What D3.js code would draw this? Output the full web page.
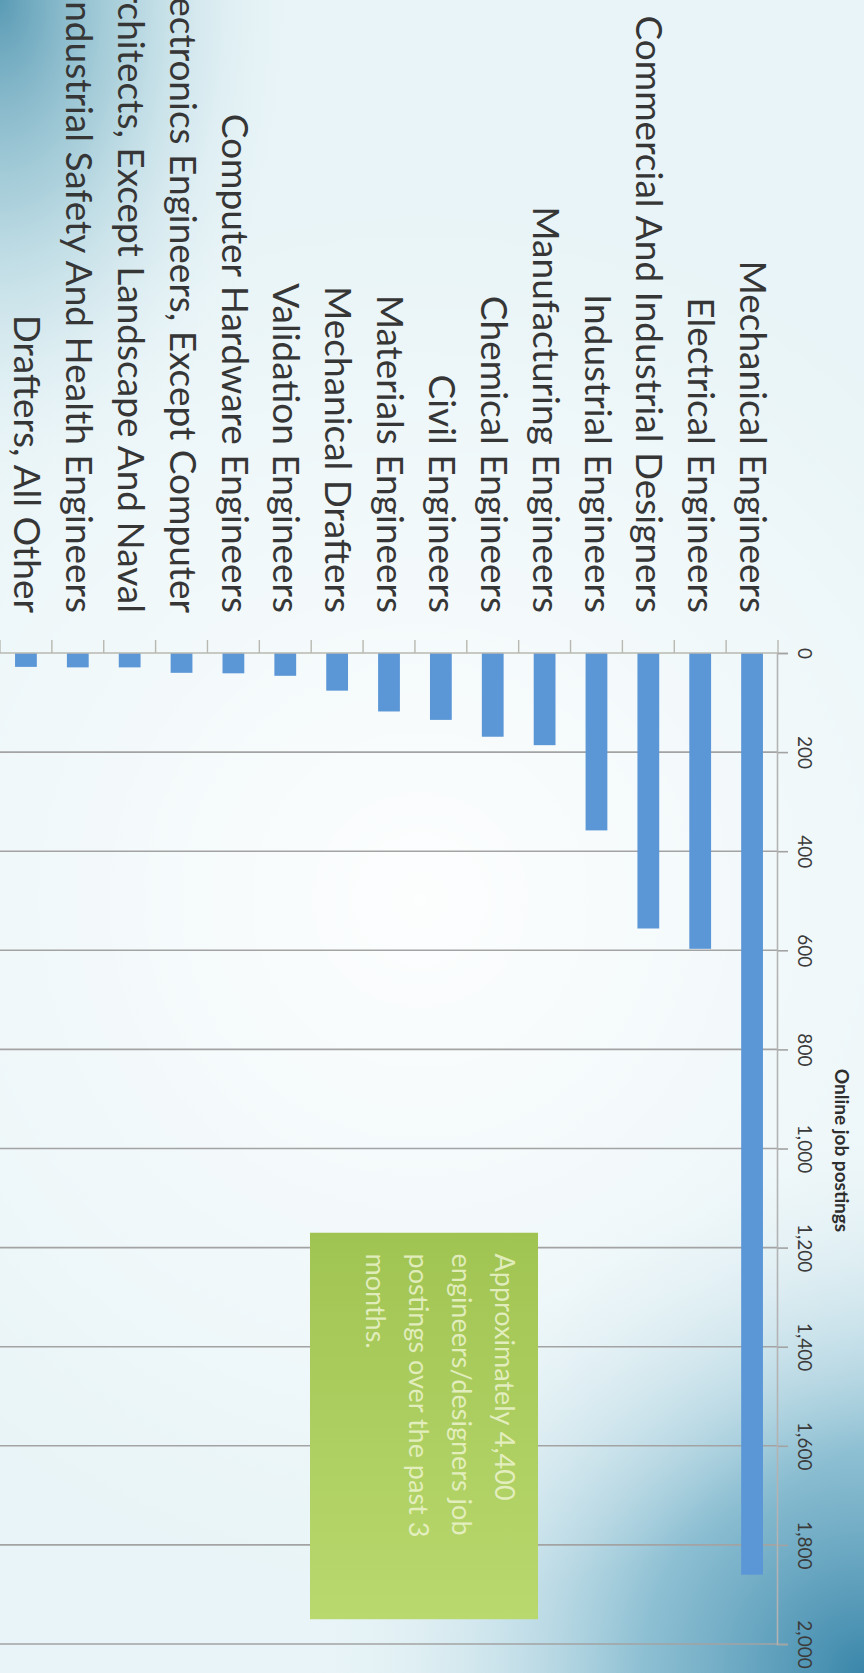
<!DOCTYPE html>
<html>
<head>
<meta charset="utf-8">
<script src="https://cdn.jsdelivr.net/npm/d3@7"></script>
<style>
  html, body { margin: 0; padding: 0; background: #eaf5f8; }
  svg { display: block; }
</style>
</head>
<body>
<svg id="chart" width="864" height="1673"></svg>
<script>
// ---------- data ----------
const categories = [
  "Mechanical Engineers",
  "Electrical Engineers",
  "Commercial And Industrial Designers",
  "Industrial Engineers",
  "Manufacturing Engineers",
  "Chemical Engineers",
  "Civil Engineers",
  "Materials Engineers",
  "Mechanical Drafters",
  "Validation Engineers",
  "Computer Hardware Engineers",
  "Electronics Engineers, Except Computer",
  "Architects, Except Landscape And Naval",
  "Industrial Safety And Health Engineers",
  "Drafters, All Other"
];
const postings = [1860, 597, 556, 358, 186, 169, 135, 118, 76, 46, 41, 40, 29, 29, 28];
const tickValues = [0, 200, 400, 600, 800, 1000, 1200, 1400, 1600, 1800, 2000];
const axisTitle = "Online job postings";
const noteLines = [
  "Approximately 4,400",
  "engineers/designers job",
  "postings over the past 3",
  "months."
];

// ---------- setup ----------
const W = 864, H = 1673;
const svg = d3.select("#chart");
const defs = svg.append("defs");

// background gradients (picture coordinates)
const rg1 = defs.append("radialGradient").attr("id", "bgTL")
  .attr("gradientUnits", "userSpaceOnUse").attr("cx", 0).attr("cy", 0).attr("r", 300)
  .attr("gradientTransform", "scale(1,1.7)");
rg1.append("stop").attr("offset", 0).attr("stop-color", "#5a9bb5").attr("stop-opacity", 1);
rg1.append("stop").attr("offset", 0.4).attr("stop-color", "#98c5d3").attr("stop-opacity", 0.75);
rg1.append("stop").attr("offset", 1).attr("stop-color", "#eaf5f8").attr("stop-opacity", 0);

const rg2 = defs.append("radialGradient").attr("id", "bgBR")
  .attr("gradientUnits", "userSpaceOnUse").attr("cx", W).attr("cy", H).attr("r", 560);
rg2.append("stop").attr("offset", 0).attr("stop-color", "#3a86aa").attr("stop-opacity", 1);
rg2.append("stop").attr("offset", 0.4).attr("stop-color", "#78b3ca").attr("stop-opacity", 0.8);
rg2.append("stop").attr("offset", 1).attr("stop-color", "#eaf5f8").attr("stop-opacity", 0);

const rg3 = defs.append("radialGradient").attr("id", "bgGlow")
  .attr("gradientUnits", "userSpaceOnUse").attr("cx", 420).attr("cy", 900).attr("r", 700);
rg3.append("stop").attr("offset", 0).attr("stop-color", "#ffffff").attr("stop-opacity", 0.9);
rg3.append("stop").attr("offset", 1).attr("stop-color", "#ffffff").attr("stop-opacity", 0);

const lg = defs.append("linearGradient").attr("id", "noteFill")
  .attr("x1", 0).attr("y1", 0).attr("x2", 1).attr("y2", 0);
lg.append("stop").attr("offset", 0).attr("stop-color", "#a0c452");
lg.append("stop").attr("offset", 1).attr("stop-color", "#b9d86e");

svg.append("rect").attr("width", W).attr("height", H).attr("fill", "#e8f4f7");
svg.append("rect").attr("width", W).attr("height", H).attr("fill", "url(#bgTL)");
svg.append("rect").attr("width", W).attr("height", H).attr("fill", "url(#bgBR)");
svg.append("rect").attr("width", W).attr("height", H).attr("fill", "url(#bgGlow)");

// chart is drawn as a horizontal bar chart, then rotated 90° clockwise
const g = svg.append("g").attr("transform", `translate(${W},0) rotate(90)`);

const plot = { left: 653, right: 1644, top: 86, bottom: 864 };

const x = d3.scaleLinear().domain([0, 2000]).range([plot.left, plot.right]);
const y = d3.scaleBand().domain(categories).range([plot.top, plot.bottom])
  .paddingInner(0.58).paddingOuter(0.29);

// gridlines
g.append("g").selectAll("line").data(tickValues.filter(d => d > 0)).join("line")
  .attr("x1", d => x(d)).attr("x2", d => x(d))
  .attr("y1", plot.top).attr("y2", plot.bottom)
  .attr("stroke", "#a3a3a3").attr("stroke-width", 1.6);

// note box
const note = g.append("g");
note.append("rect")
  .attr("x", x(1170)).attr("y", 326)
  .attr("width", x(1950) - x(1170)).attr("height", 228)
  .attr("fill", "url(#noteFill)");
note.append("text")
  .attr("font-family", "Lato, 'Open Sans', sans-serif")
  .attr("font-size", 27)
  .attr("fill", "#edf4cf")
  .attr("fill-opacity", 0.85)
  .selectAll("tspan").data(noteLines).join("tspan")
  .attr("x", x(1212))
  .attr("y", (d, i) => 369 + i * 43)
  .text(d => d);

// value axis (top of the unrotated chart)
const xAxis = d3.axisTop(x).tickValues(tickValues)
  .tickFormat(d3.format(",")).tickSize(10).tickPadding(10);
const xa = g.append("g").attr("transform", `translate(0,${plot.top})`).call(xAxis);
xa.select(".domain").attr("stroke", "#b3b3b3").attr("stroke-width", 1.6);
xa.selectAll(".tick line").attr("stroke", "#a3a3a3").attr("stroke-width", 1.6);
xa.selectAll(".tick text")
  .attr("font-family", "Lato, 'Open Sans', sans-serif")
  .attr("font-size", 19).attr("fill", "#3b3b3b");

// axis title
g.append("text")
  .attr("x", (x(0) + x(2000)) / 2 + 2).attr("y", 29)
  .attr("text-anchor", "middle")
  .attr("font-family", "Lato, 'Open Sans', sans-serif")
  .attr("font-weight", "bold").attr("font-size", 19).attr("fill", "#2e2e2e")
  .text(axisTitle);

// bars
g.append("g").selectAll("rect").data(categories).join("rect")
  .attr("x", x(0))
  .attr("y", d => y(d))
  .attr("width", (d, i) => x(postings[i]) - x(0))
  .attr("height", y.bandwidth())
  .attr("fill", "#5b96d6");

// category axis
const yAxis = d3.axisLeft(y).tickSize(0).tickPadding(40);
const ya = g.append("g").attr("transform", `translate(${plot.left},0)`).call(yAxis);
ya.select(".domain").remove();
ya.selectAll(".tick text")
  .attr("font-family", "Lato, 'Open Sans', sans-serif")
  .attr("font-size", 37).attr("fill", "#363636");

// category axis line + boundary tick marks
g.append("line")
  .attr("x1", plot.left).attr("x2", plot.left)
  .attr("y1", plot.top).attr("y2", plot.bottom)
  .attr("stroke", "#b8b8b0").attr("stroke-width", 1.6);
const bounds = d3.range(categories.length + 1).map(i => plot.top + i * y.step());
g.append("g").selectAll("line").data(bounds).join("line")
  .attr("x1", plot.left - 13).attr("x2", plot.left)
  .attr("y1", d => d).attr("y2", d => d)
  .attr("stroke", "#b8b8b0").attr("stroke-width", 1.4);
</script>
</body>
</html>
